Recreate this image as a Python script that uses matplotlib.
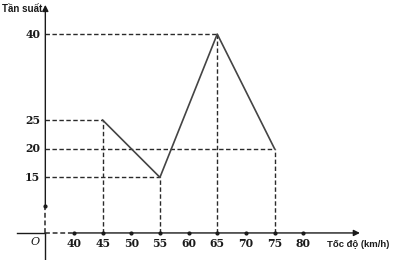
import matplotlib
matplotlib.use("Agg")
import matplotlib.pyplot as plt

# data
speeds = [45, 55, 65, 75]
freqs = [25, 15, 40, 20]
x_ticks = [40, 45, 50, 55, 60, 65, 70, 75, 80]
y_ticks = [15, 20, 25, 40]

# broken axes: origin drawn at (35, 5.3)
x0, y0 = 35, 5.3

fig = plt.figure(figsize=(3.95, 2.6), dpi=100)
ax = fig.add_axes([0, 0, 1, 1])
ax.set_xlim(27.09, 96.02)
ax.set_ylim(0.58, 45.95)
ax.axis("off")

ink = "#1a1a1a"
dark = "#2a2a2a"
dash = (0, (3.2, 1.8))
serif = dict(family="DejaVu Serif", fontsize=7.8, fontweight="bold", color=ink)

# axes (solid parts with arrows)
ax.annotate("", xy=(89.9, y0), xytext=(40, y0),
            arrowprops=dict(arrowstyle="-|>", color=ink, lw=1.0,
                            mutation_scale=9, shrinkA=0, shrinkB=0))
ax.annotate("", xy=(x0, 45.1), xytext=(x0, 10),
            arrowprops=dict(arrowstyle="-|>", color=ink, lw=1.0,
                            mutation_scale=9, shrinkA=0, shrinkB=0))
ax.plot([x0, x0], [0.58, y0], color=ink, lw=1.0)
ax.plot([30.1, x0], [y0, y0], color=ink, lw=1.0)
# axis breaks drawn dashed
ax.plot([x0, x0], [y0, 10], color=dark, lw=1.1, ls=dash)
ax.plot([x0, 40], [y0, y0], color=dark, lw=1.1, ls=dash)
ax.plot([x0], [10], marker="o", ms=2, color=ink)

# guide lines
for x, y in zip(speeds, freqs):
    ax.plot([x0, x], [y, y], color=dark, lw=1.0, ls=dash)
    ax.plot([x, x], [y0, y], color=dark, lw=1.0, ls=dash)

# frequency polygon
ax.plot(speeds, freqs, color="#444444", lw=1.2)

# ticks and labels
ax.plot(x_ticks, [y0] * len(x_ticks), ls="none", marker="o", ms=2, color=ink)
for t in x_ticks:
    ax.text(t, y0 - 0.9, str(t), ha="center", va="top", **serif)
for t in y_ticks:
    ax.text(x0 - 0.9, t, str(t), ha="right", va="center", **serif)

ax.text(x0 - 1.0, y0 - 0.7, "O", ha="right", va="top", family="DejaVu Serif",
        fontsize=8, style="italic", color=ink)
ax.text(x0 - 0.6, 44.4, "Tần suất", ha="right", va="center",
        family="Liberation Sans", fontsize=7, fontweight="bold", color=ink)
ax.text(95.0, y0 - 2.0, "Tốc độ (km/h)", ha="right", va="center",
        family="Liberation Sans", fontsize=6.8, fontweight="bold", color=ink)

fig.savefig("out.png", dpi=100)
